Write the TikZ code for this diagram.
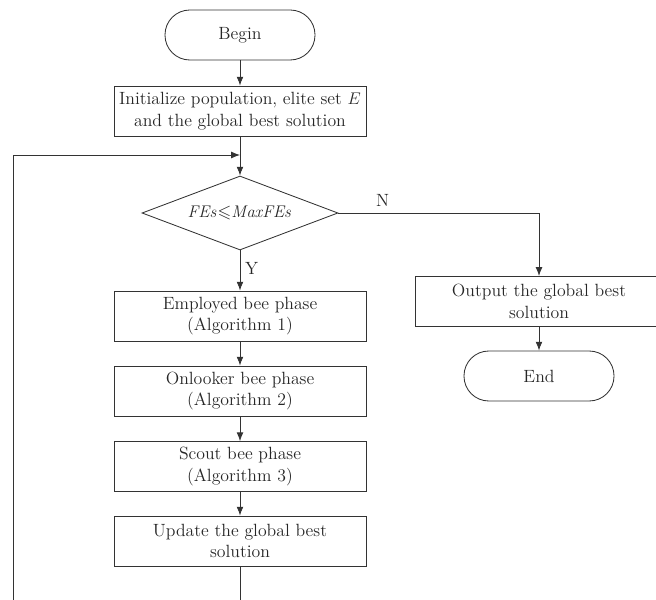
\documentclass[tikz,border=0pt]{standalone}
\usepackage{amsmath}
\usepackage{amssymb}
\usepackage{tikz}
\usetikzlibrary{arrows,arrows.meta,positioning,shapes.geometric}

\tikzset{
  proc/.style={rectangle,draw=black!80,semithick,text=black!85,minimum width=6.3cm,minimum height=1.25cm,align=center,inner sep=1pt,font=\fontsize{12.6}{15.5}\selectfont},
  term/.style={rectangle,rounded corners=0.62cm,draw=black!80,semithick,text=black!85,minimum width=3.75cm,minimum height=1.25cm,font=\fontsize{12.6}{15.5}\selectfont},
  decide/.style={diamond,aspect=2.65,draw=black!80,semithick,text=black!85,minimum width=4.9cm,minimum height=1.85cm,inner sep=0pt,font=\fontsize{12.6}{15.5}\selectfont},
  flow/.style={-{Latex[length=2.2mm,width=1.7mm]},semithick,black!80},
  lbl/.style={text=black!85,font=\fontsize{12.6}{15.5}\selectfont}
}

\begin{document}
\begin{tikzpicture}
  \useasboundingbox (0,0) rectangle (16.4,14.975);
  \clip (0,0) rectangle (16.4,14.975);
  \node[term] (begin) at (6,14.1){Begin};
  \node[proc] (init) at (6,12.2){Initialize population, elite set $E$\\and the global best solution};
  \node[decide] (dec) at (6,9.65){$\mathit{FEs}{\leqslant}\mathit{MaxFEs}$};
  \node[proc] (emp) at (6,7.075){Employed bee phase\\(Algorithm 1)};
  \node[proc] (onl) at (6,5.2){Onlooker bee phase\\(Algorithm 2)};
  \node[proc] (sct) at (6,3.31){Scout bee phase\\(Algorithm 3)};
  \node[proc] (upd) at (6,1.45){Update the global best\\solution};
  \node[proc,minimum width=6.2cm] (out) at (13.475,7.44){Output the global best\\solution};
  \node[term] (end) at (13.475,5.575){End};
  \coordinate (jn) at (6,11.1);
  \coordinate (bl) at (0.325,-0.5);

  \draw[flow] (begin) -- (init);
  \draw[flow] (init) -- (dec);
  \draw[flow] (dec) -- node[lbl,right,pos=0.45]{Y} (emp);
  \draw[flow] (emp) -- (onl);
  \draw[flow] (onl) -- (sct);
  \draw[flow] (sct) -- (upd);
  \draw[flow] (dec.east) -| node[lbl,above=1pt,pos=0.11]{N} (out.north);
  \draw[flow] (out) -- (end);
  \draw[flow] (upd.south) |- (bl) |- (jn);
\end{tikzpicture}
\end{document}
